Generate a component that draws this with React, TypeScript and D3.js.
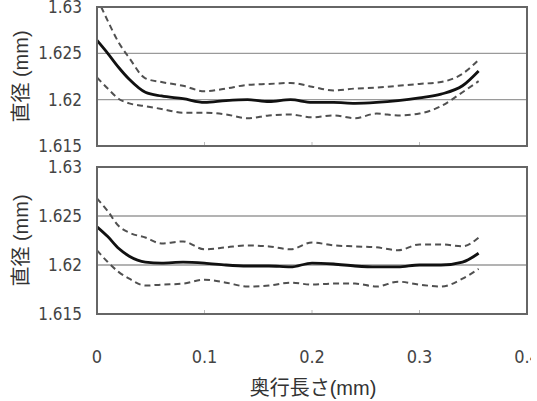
import React from "react";
import * as d3 from "d3";

// depth along the hole (mm)
const depth = [0, 0.01, 0.02, 0.03, 0.045, 0.06, 0.08, 0.1, 0.12, 0.14, 0.16, 0.18, 0.2, 0.22, 0.24, 0.26, 0.28, 0.3, 0.32, 0.34, 0.355];

// upper panel: mean and +/- band
const topMean = [1.6264, 1.625, 1.6235, 1.6222, 1.6208, 1.6204, 1.6201, 1.6197, 1.6199, 1.62, 1.6198, 1.62, 1.6197, 1.6197, 1.6196, 1.6197, 1.6199, 1.6202, 1.6206, 1.6215, 1.6231];
const topUpper = [1.631, 1.6285, 1.6262, 1.6245, 1.6223, 1.6219, 1.6215, 1.6209, 1.6212, 1.6216, 1.6217, 1.6218, 1.6214, 1.621, 1.6212, 1.6213, 1.6215, 1.6217, 1.6219, 1.6228, 1.6243];
const topLower = [1.6224, 1.6212, 1.6201, 1.6196, 1.6193, 1.619, 1.6186, 1.6186, 1.6184, 1.618, 1.6183, 1.6184, 1.6181, 1.6183, 1.618, 1.6185, 1.6183, 1.6185, 1.6193, 1.6208, 1.622];

// lower panel
const bottomMean = [1.6239, 1.6229, 1.6217, 1.6209, 1.6203, 1.6202, 1.6203, 1.6202, 1.62, 1.6199, 1.6199, 1.6198, 1.6202, 1.6201, 1.6199, 1.6198, 1.6198, 1.62, 1.62, 1.6203, 1.6212];
const bottomUpper = [1.6268, 1.6255, 1.624, 1.6233, 1.6228, 1.6222, 1.6224, 1.6216, 1.6218, 1.622, 1.6219, 1.6216, 1.6223, 1.622, 1.6219, 1.6218, 1.6215, 1.6221, 1.6221, 1.6219, 1.6228];
const bottomLower = [1.6215, 1.6203, 1.6193, 1.6186, 1.6179, 1.618, 1.6181, 1.6185, 1.6182, 1.6178, 1.6179, 1.6182, 1.618, 1.6181, 1.6181, 1.6178, 1.6183, 1.618, 1.6178, 1.6186, 1.6196];

const yTicks = [1.615, 1.62, 1.625, 1.63];
const yGrid = [1.62, 1.625];
const xTicks = [0, 0.1, 0.2, 0.3, 0.4];

const numFont = "'Liberation Sans Narrow', 'DejaVu Sans Condensed', sans-serif";
const jpFont = "'Liberation Sans', 'Noto Sans CJK JP', sans-serif";

const x = d3.scaleLinear().domain([0, 0.4]).range([97, 527]);

const Panel = ({ id, top, bottom, mean, upper, lower }: any) => {
  const y = d3.scaleLinear().domain([1.615, 1.63]).range([bottom, top]);
  const line = d3
    .line<number>()
    .x((d, i) => x(depth[i]))
    .y((d) => y(d))
    .curve(d3.curveMonotoneX);

  return (
    <g>
      <defs>
        <clipPath id={id}>
          <rect x={x(0)} y={top} width={x(0.4) - x(0)} height={bottom - top} />
        </clipPath>
      </defs>
      {yGrid.map((t) => (
        <line key={t} x1={x(0)} x2={x(0.4)} y1={y(t)} y2={y(t)} stroke="#9a9a9a" strokeWidth={1.3} />
      ))}
      {xTicks.slice(1, 4).map((t) => (
        <line key={t} x1={x(t)} x2={x(t)} y1={bottom} y2={bottom - 4} stroke="#bbb" strokeWidth={1} />
      ))}
      <g clipPath={`url(#${id})`} fill="none">
        <path d={line(upper) || ""} stroke="#505050" strokeWidth={2} strokeDasharray="6,4" />
        <path d={line(lower) || ""} stroke="#505050" strokeWidth={2} strokeDasharray="6,4" />
        <path d={line(mean) || ""} stroke="#111" strokeWidth={2.8} />
      </g>
      <rect x={x(0)} y={top} width={x(0.4) - x(0)} height={bottom - top} fill="none" stroke="#666" strokeWidth={2} />
      {yTicks.map((t) => (
        <text key={t} x={82} y={y(t)} dy="0.36em" textAnchor="end" fontFamily={numFont} fontSize={17} fill="#444">
          {String(t)}
        </text>
      ))}
      <text
        transform={`translate(21,${(top + bottom) / 2}) rotate(-90)`}
        dy="0.36em"
        textAnchor="middle"
        fontFamily={jpFont}
        fontSize={20}
        fill="#333"
      >
        直径 (mm)
      </text>
    </g>
  );
};

export default function App() {
  return (
    <svg width={537} height={401} style={{ position: "absolute", left: 0, top: 0, background: "#fff" }}>
      <defs>
        <clipPath id="xlab">
          <rect x={0} y={330} width={531} height={40} />
        </clipPath>
      </defs>
      <Panel id="c1" top={7} bottom={146} mean={topMean} upper={topUpper} lower={topLower} />
      <Panel id="c2" top={167} bottom={314} mean={bottomMean} upper={bottomUpper} lower={bottomLower} />
      <g clipPath="url(#xlab)">
        {xTicks.map((t) => (
          <text key={t} x={x(t)} y={357} dy="0.36em" textAnchor="middle" fontFamily={numFont} fontSize={18} fill="#444">
            {String(t)}
          </text>
        ))}
      </g>
      <text x={313} y={388} dy="0.36em" textAnchor="middle" fontFamily={jpFont} fontSize={20} fill="#333">
        奥行長さ(mm)
      </text>
    </svg>
  );
}
